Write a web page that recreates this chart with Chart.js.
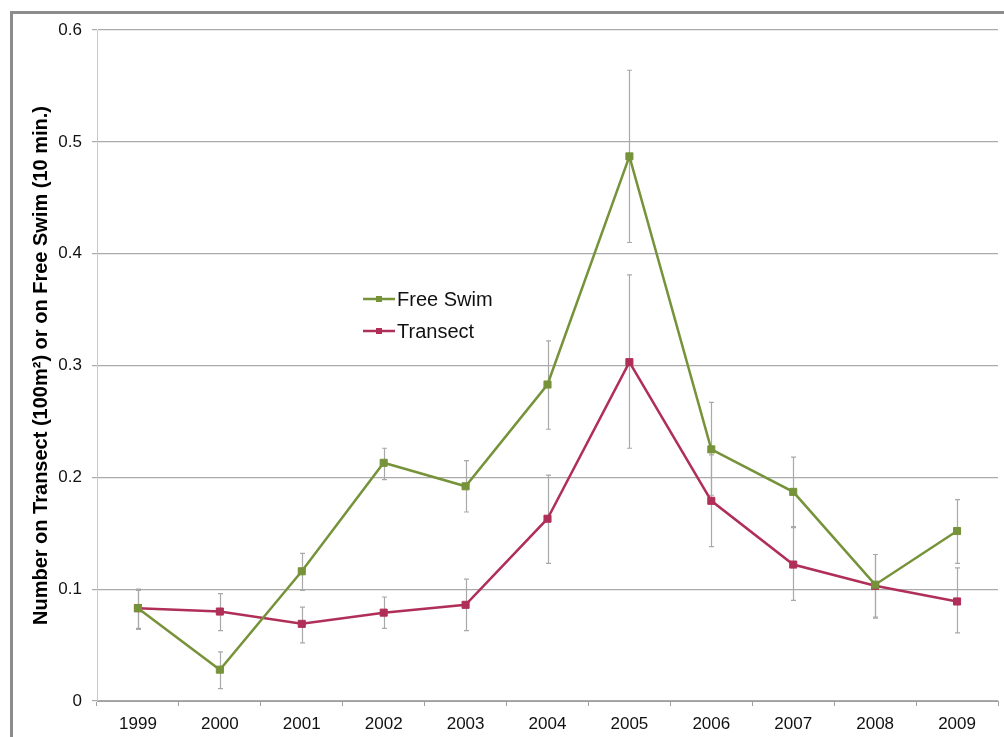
<!DOCTYPE html>
<html>
<head>
<meta charset="utf-8">
<script src="https://cdn.jsdelivr.net/npm/chart.js@4.4.1/dist/chart.umd.min.js"></script>
<style>
  html, body { margin: 0; padding: 0; background: #ffffff; }
  #wrap { width: 1004px; height: 737px; position: relative; }
</style>
</head>
<body>
<div id="wrap"><canvas id="c" width="1004" height="737"></canvas></div>
<script>
// Survey years
const years = ['1999', '2000', '2001', '2002', '2003', '2004', '2005', '2006', '2007', '2008', '2009'];

// Free Swim: mean count per 10 min swim, with error bar limits
const freeSwim     = [0.083, 0.028, 0.116, 0.213, 0.192, 0.283, 0.487, 0.225, 0.187, 0.104, 0.152];
const freeSwimLow  = [0.065, 0.011, 0.099, 0.198, 0.169, 0.243, 0.410, 0.184, 0.156, 0.075, 0.123];
const freeSwimHigh = [0.100, 0.044, 0.132, 0.226, 0.215, 0.322, 0.564, 0.267, 0.218, 0.131, 0.180];

// Transect: mean count per 100 m², with error bar limits
const transect     = [0.083, 0.080, 0.069, 0.079, 0.086, 0.163, 0.303, 0.179, 0.122, 0.103, 0.089];
const transectLow  = [0.064, 0.063, 0.052, 0.065, 0.063, 0.123, 0.226, 0.138, 0.090, 0.074, 0.061];
const transectHigh = [0.099, 0.096, 0.084, 0.093, 0.109, 0.202, 0.381, 0.220, 0.155, 0.131, 0.119];

// Y axis ticks
const yTicks = [0, 0.1, 0.2, 0.3, 0.4, 0.5, 0.6];

const GREEN = '#76933a';
const RED = '#b02f58';
const FONT = "'Liberation Sans', Arial, sans-serif";

// Outer frame around the whole figure
const framePlugin = {
  id: 'frame',
  beforeDraw(chart) {
    const ctx = chart.ctx;
    ctx.save();
    ctx.strokeStyle = '#8c8c8c';
    ctx.lineWidth = 3;
    ctx.strokeRect(11.5, 12.5, 1010, 740);
    ctx.restore();
  }
};

// Vertical error bars with small caps, drawn beneath the lines
const errorBarPlugin = {
  id: 'errorBars',
  beforeDatasetsDraw(chart) {
    const ctx = chart.ctx;
    const x = chart.scales.x, y = chart.scales.y;
    const sets = [[freeSwimLow, freeSwimHigh], [transectLow, transectHigh]];
    ctx.save();
    ctx.strokeStyle = '#a9a9a9';
    ctx.lineWidth = 1.2;
    sets.forEach(([lo, hi]) => {
      years.forEach((yr, i) => {
        const px = Math.round(x.getPixelForValue(i)) + 0.5;
        const y1 = y.getPixelForValue(lo[i]);
        const y2 = y.getPixelForValue(hi[i]);
        ctx.beginPath();
        ctx.moveTo(px, y1); ctx.lineTo(px, y2);
        ctx.moveTo(px - 2.5, y1); ctx.lineTo(px + 2.5, y1);
        ctx.moveTo(px - 2.5, y2); ctx.lineTo(px + 2.5, y2);
        ctx.stroke();
      });
    });
    ctx.restore();
  }
};

// Legend placed inside the plot area
const innerLegendPlugin = {
  id: 'innerLegend',
  afterDraw(chart) {
    const ctx = chart.ctx;
    const rows = [299, 331];
    ctx.save();
    chart.data.datasets.forEach((ds, i) => {
      const cy = rows[i];
      ctx.strokeStyle = ds.borderColor;
      ctx.lineWidth = 2.5;
      ctx.beginPath();
      ctx.moveTo(363, cy); ctx.lineTo(395, cy);
      ctx.stroke();
      ctx.fillStyle = ds.backgroundColor;
      ctx.fillRect(376, cy - 3, 6, 6);
      ctx.fillStyle = '#111111';
      ctx.font = '20px ' + FONT;
      ctx.textBaseline = 'middle';
      ctx.textAlign = 'left';
      ctx.fillText(ds.label, 397, cy + 1);
    });
    ctx.restore();
  }
};

new Chart(document.getElementById('c'), {
  type: 'line',
  data: {
    labels: years,
    datasets: [
      {
        label: 'Free Swim',
        data: freeSwim,
        borderColor: GREEN,
        backgroundColor: GREEN,
        borderWidth: 2.5,
        pointStyle: 'rect',
        pointRadius: 5,
        pointBorderWidth: 1,
        tension: 0
      },
      {
        label: 'Transect',
        data: transect,
        borderColor: RED,
        backgroundColor: RED,
        borderWidth: 2.5,
        pointStyle: 'rect',
        pointRadius: 5,
        pointBorderWidth: 1,
        tension: 0
      }
    ]
  },
  options: {
    responsive: false,
    animation: false,
    devicePixelRatio: 1,
    layout: { padding: { left: 12, top: 30, right: 5, bottom: 0 } },
    plugins: {
      legend: { display: false },
      tooltip: { enabled: false }
    },
    scales: {
      x: {
        type: 'category',
        offset: true,
        grid: {
          offset: true,
          drawOnChartArea: false,
          drawTicks: true,
          tickLength: 5,
          color: '#a0a0a0'
        },
        border: { color: '#a0a0a0', width: 1 },
        ticks: {
          color: '#111111',
          font: { family: FONT, size: 17 },
          padding: 8,
          maxRotation: 0,
          autoSkip: false
        },
        afterFit(scale) { scale.height = 36; }
      },
      y: {
        min: 0,
        max: 0.6,
        afterBuildTicks(scale) { scale.ticks = yTicks.map(v => ({ value: v })); },
        grid: {
          color: '#aaaaaa',
          lineWidth: 1.2,
          tickLength: 5,
          drawTicks: true
        },
        border: { color: '#c8c8c8', width: 1 },
        ticks: {
          color: '#111111',
          font: { family: FONT, size: 17 },
          padding: 10,
          callback: v => (v === 0 ? '0' : v.toFixed(1))
        },
        title: {
          display: true,
          text: 'Number on Transect (100m²) or on Free Swim (10 min.)',
          color: '#000000',
          font: { family: FONT, size: 20, weight: 'bold' },
          padding: { top: 17, bottom: 0 }
        },
        afterFit(scale) { scale.width = 85; }
      }
    }
  },
  plugins: [framePlugin, errorBarPlugin, innerLegendPlugin]
});
</script>
</body>
</html>
